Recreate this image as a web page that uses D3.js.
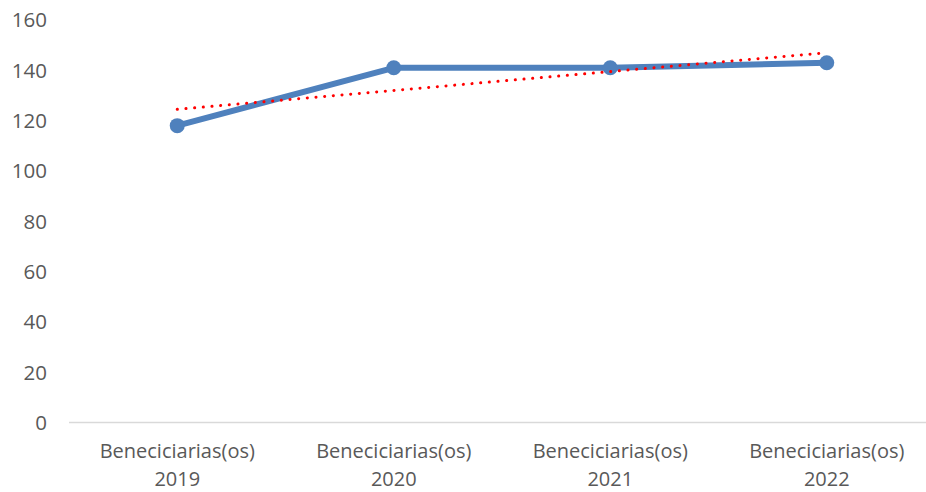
<!DOCTYPE html>
<html>
<head>
<meta charset="utf-8">
<script src="https://cdn.jsdelivr.net/npm/d3@7"></script>
<style>
  body { margin: 0; background: #fff; }
  svg { display: block; }
  text { font-family: "Open Sans", Lato, sans-serif; fill: #595959; }
</style>
</head>
<body>
<script>
// data
var categories = ['Beneciciarias(os) 2019', 'Beneciciarias(os) 2020', 'Beneciciarias(os) 2021', 'Beneciciarias(os) 2022'];
var values = [118, 141, 141, 143];
var yTicks = [0, 20, 40, 60, 80, 100, 120, 140, 160];

var width = 926, height = 492;
var margin = {top: 20, right: -9, bottom: 70, left: 69};

var svg = d3.select(document.body).append('svg')
    .attr('width', width)
    .attr('height', height);

var x = d3.scaleBand()
    .domain(categories)
    .range([margin.left, width - margin.right]);

var y = d3.scaleLinear()
    .domain([0, 160])
    .range([height - margin.bottom + 0.5, margin.top]);

// y labels
svg.append('g').selectAll('text')
    .data(yTicks)
    .enter().append('text')
    .attr('x', 47)
    .attr('y', function(d){ return y(d); })
    .attr('dy', '0.36em')
    .attr('text-anchor', 'end')
    .style('font-size', '20.5px')
    .text(function(d){ return d; });

// x axis line
svg.append('line')
    .attr('x1', margin.left)
    .attr('x2', width - margin.right)
    .attr('y1', y(0))
    .attr('y2', y(0))
    .attr('stroke', '#d9d9d9')
    .attr('stroke-width', 1.5);

// category labels (two lines)
var cat = svg.append('g').selectAll('text')
    .data(categories)
    .enter().append('text')
    .attr('text-anchor', 'middle')
    .style('font-size', '20px');
cat.each(function(d){
    var parts = d.split(' ');
    var t = d3.select(this);
    var cx = x(d) + x.bandwidth() / 2;
    t.append('tspan').attr('x', cx).attr('y', 458).text(parts[0]);
    t.append('tspan').attr('x', cx).attr('y', 486).text(parts[1]);
});

function cx(d, i){ return x(categories[i]) + x.bandwidth() / 2; }

// series line
var line = d3.line()
    .x(function(d, i){ return cx(d, i); })
    .y(function(d){ return y(d); });

svg.append('path')
    .datum(values)
    .attr('d', line)
    .attr('fill', 'none')
    .attr('stroke', '#4f81bd')
    .attr('stroke-width', 6)
    .attr('stroke-linejoin', 'round');

svg.append('g').selectAll('circle')
    .data(values)
    .enter().append('circle')
    .attr('cx', function(d, i){ return cx(d, i); })
    .attr('cy', function(d){ return y(d); })
    .attr('r', 7.5)
    .attr('fill', '#4f81bd');

// linear trend line (least squares on the values)
var mx = d3.mean(values, function(d, i){ return i; });
var my = d3.mean(values);
var slope = d3.sum(values, function(d, i){ return (i - mx) * (d - my); }) /
            d3.sum(values, function(d, i){ return (i - mx) * (i - mx); });
var icpt = my - slope * mx;
var trend = values.map(function(d, i){ return icpt + slope * i; });

svg.append('path')
    .datum(trend)
    .attr('d', line)
    .attr('fill', 'none')
    .attr('stroke', '#ff0000')
    .attr('stroke-width', 3)
    .attr('stroke-linecap', 'round')
    .attr('stroke-dasharray', '0.1 8.6');
</script>
</body>
</html>
